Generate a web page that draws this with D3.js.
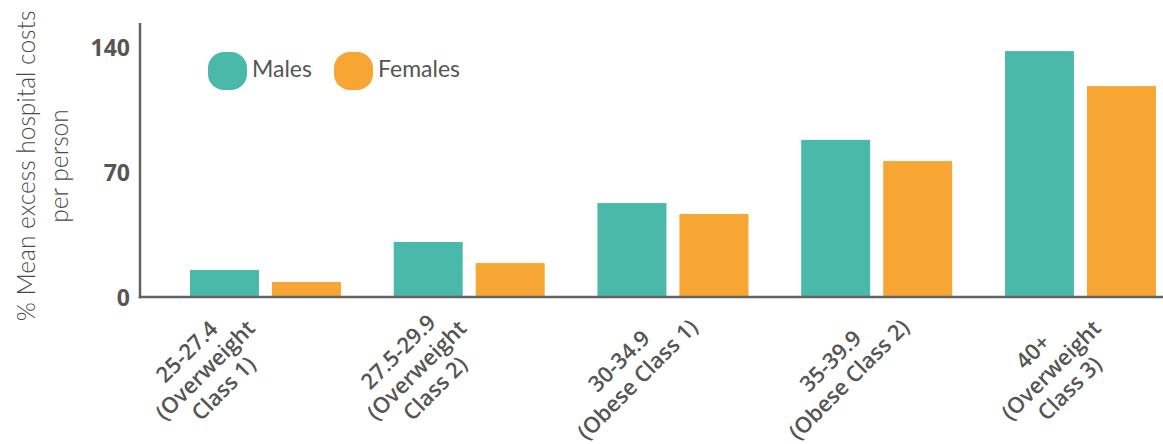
<!DOCTYPE html>
<html>
<head>
<meta charset="utf-8">
<script src="https://cdn.jsdelivr.net/npm/d3@7"></script>
<style>
  html, body { margin: 0; padding: 0; background: #fff; }
  svg { display: block; }
</style>
</head>
<body>
<svg id="chart" width="1163" height="444"></svg>
<script>
// BMI bands, each label split into the lines shown under the axis
const categoryLines = [
  ["25-27.4", "(Overweight", "Class 1)"],
  ["27.5-29.9", "(Overweight", "Class 2)"],
  ["30-34.9", "(Obese Class 1)"],
  ["35-39.9", "(Obese Class 2)"],
  ["40+", "(Overweight", "Class 3)"]
];
const categories = categoryLines.map(l => l.join(" "));
const seriesNames = ["Males", "Females"];
const males   = [15.1, 30.8, 52.6, 88.0, 137.7];
const females = [8.4, 19.0, 46.5, 76.1, 118.1];
const yTicks = [0, 70, 140];
const yTitleLines = ["% Mean excess hospital costs", "per person"];

const colors = { Males: "#4bb9a9", Females: "#f7a533" };
const textGrey = "#555555";
const axisGrey = "#636363";

const svg = d3.select("#chart");

const baseY = 297, topY = 23, axisX = 140, rightX = 1163;

const rows = categories.map((c, i) => ({ category: c, lines: categoryLines[i], Males: males[i], Females: females[i] }));

const y = d3.scaleLinear().domain([0, 140]).range([baseY, 47]);

const x = d3.scaleBand()
  .domain(categories)
  .range([163.6, 1182.3])
  .paddingInner(0.259)
  .paddingOuter(0.1295);

const xInner = d3.scaleBand()
  .domain(seriesNames)
  .range([0, x.bandwidth()])
  .paddingInner(0.159);

// positions of the rotated category labels
const xLabel = d3.scalePoint().domain(categories).range([205, 1051]);

// bars
const groups = svg.append("g").selectAll("g")
  .data(rows)
  .join("g")
  .attr("transform", d => `translate(${x(d.category)},0)`);

groups.selectAll("rect")
  .data(d => seriesNames.map(s => ({ key: s, value: d[s] })))
  .join("rect")
  .attr("x", d => xInner(d.key))
  .attr("width", xInner.bandwidth())
  .attr("y", d => y(d.value))
  .attr("height", d => baseY - y(d.value))
  .attr("fill", d => colors[d.key]);

// axis lines
svg.append("line")
  .attr("x1", axisX).attr("x2", axisX)
  .attr("y1", topY).attr("y2", baseY + 1.25)
  .attr("stroke", axisGrey).attr("stroke-width", 2.5);
svg.append("line")
  .attr("x1", axisX - 1.25).attr("x2", rightX)
  .attr("y1", baseY).attr("y2", baseY)
  .attr("stroke", axisGrey).attr("stroke-width", 2.5);

// y ticks
const yAxis = d3.axisLeft(y).tickValues(yTicks).tickSize(0).tickPadding(10).tickFormat(d3.format("d"));
const yAxisG = svg.append("g").attr("transform", `translate(${axisX},0)`).call(yAxis);
yAxisG.select(".domain").remove();
yAxisG.selectAll("text")
  .attr("font-family", "'Open Sans', sans-serif")
  .attr("font-weight", 700)
  .attr("font-size", 23)
  .attr("fill", textGrey)
  .attr("dy", "0.36em");

// y title
const yTitle = svg.append("text")
  .attr("transform", "translate(35,166) rotate(-90)")
  .attr("text-anchor", "middle")
  .attr("font-family", "Lato, sans-serif")
  .attr("font-weight", 300)
  .attr("font-size", 24.5)
  .attr("fill", "#4a4a4a");
yTitle.selectAll("tspan")
  .data(yTitleLines)
  .join("tspan")
  .attr("x", 0)
  .attr("y", (d, i) => i * 33)
  .text(d => d);

// category labels
const lineH = 26;
const labels = svg.append("g").selectAll("text")
  .data(rows)
  .join("text")
  .attr("transform", d => `translate(${xLabel(d.category)},370) rotate(-45)`)
  .attr("text-anchor", "middle")
  .attr("font-family", "'Open Sans', sans-serif")
  .attr("font-weight", 600)
  .attr("font-size", 22)
  .attr("fill", textGrey);
labels.selectAll("tspan")
  .data(d => d.lines.map((t, j) => ({ t, j, n: d.lines.length })))
  .join("tspan")
  .attr("x", 0)
  .attr("y", d => (d.j - (d.n - 1) / 2) * lineH)
  .attr("dy", "0.36em")
  .text(d => d.t);

// legend
const legendX = [208, 334];
const legend = svg.append("g").selectAll("g")
  .data(seriesNames)
  .join("g")
  .attr("transform", (d, i) => `translate(${legendX[i]},52)`);
legend.append("rect")
  .attr("width", 39).attr("height", 38)
  .attr("rx", 16).attr("ry", 16)
  .attr("fill", d => colors[d]);
legend.append("text")
  .attr("x", 44).attr("y", 25)
  .attr("font-family", "Lato, sans-serif")
  .attr("font-size", 23)
  .attr("fill", textGrey)
  .text(d => d);
</script>
</body>
</html>
